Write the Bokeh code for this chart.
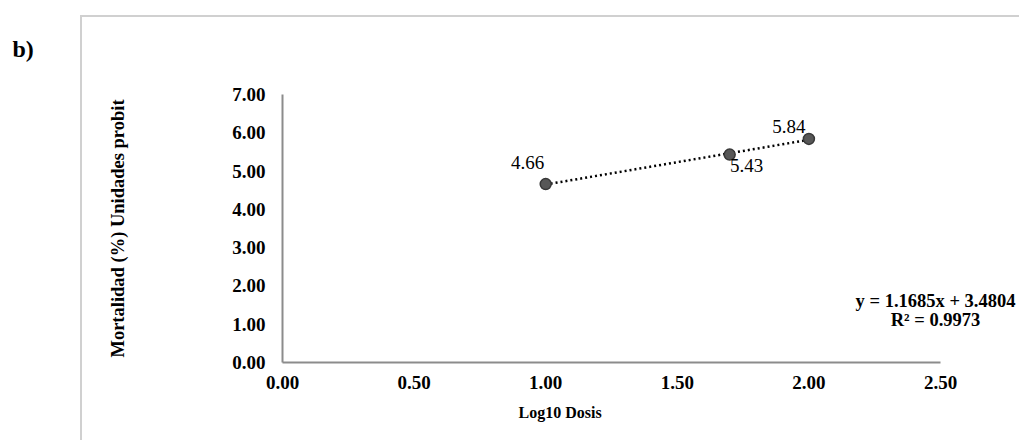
from bokeh.plotting import figure
from bokeh.models import ColumnDataSource, Range1d, FixedTicker, CustomJSTickFormatter, Label, LabelSet, Title
from bokeh.core.properties import value
from bokeh.embed import file_html
from bokeh.resources import INLINE

# ---- data ----
log_dose = [1.0, 1.699, 2.0]
probit = [4.66, 5.43, 5.84]
point_labels = ["4.66", "5.43", "5.84"]
slope = 1.1685
intercept = 3.4804
r2 = 0.9973
x_ticks = [0.0, 0.5, 1.0, 1.5, 2.0, 2.5]
y_ticks = [0, 1, 2, 3, 4, 5, 6, 7]
panel_tag = "b)"
x_title = "Log10 Dosis"
y_title = "Mortalidad (%) Unidades probit"

FONT = "Liberation Serif"

W, H = 1019, 440
FL, FR, FT, FB = 282, 940, 94, 362   # plot-area pixel box (axis extents)
XMAX, YMAX = 2.5, 7.0
ppx = (FR - FL) / XMAX
x_end = (W - FL) / ppx

p = figure(width=W, height=H, output_backend="svg", toolbar_location=None,
           x_range=Range1d(0, x_end), y_range=Range1d(0, YMAX),
           min_border_left=FL, min_border_right=0,
           min_border_top=FT, min_border_bottom=H - FB)
p.outline_line_color = None
p.grid.grid_line_color = None
p.background_fill_color = "white"
p.border_fill_alpha = 0
p.styles = {
    "background": "linear-gradient(#d0d0d0,#d0d0d0) 80px 15px / 2px 100% no-repeat, "
                  "linear-gradient(#d0d0d0,#d0d0d0) 80px 15px / 100% 2px no-repeat, white",
}

def dx(px):
    return (px - FL) / ppx

def dy(py):
    return (FB - py) / ((FB - FT) / YMAX)

for ax in (p.xaxis, p.yaxis):
    ax.axis_line_color = "#8c8c8c"
    ax.axis_line_width = 2
    ax.major_tick_line_color = None
    ax.minor_tick_line_color = None
    ax.major_tick_out = 0
    ax.major_tick_in = 0
    ax.major_label_text_font = FONT
    ax.major_label_text_font_style = "bold"
    ax.major_label_text_font_size = "19px"
    ax.major_label_text_color = "black"
    ax.formatter = CustomJSTickFormatter(code="return tick.toFixed(2);")

p.xaxis.ticker = FixedTicker(ticks=x_ticks)
p.yaxis.ticker = FixedTicker(ticks=y_ticks)
p.xaxis.bounds = (0, XMAX)
p.xaxis.major_label_standoff = 13
p.yaxis.major_label_standoff = 17

p.yaxis.axis_label = y_title
p.yaxis.axis_label_text_font = FONT
p.yaxis.axis_label_text_font_style = "bold"
p.yaxis.axis_label_text_font_size = "18.5px"
p.yaxis.axis_label_text_color = "black"
p.yaxis.axis_label_standoff = 101

# trendline from regression equation
tx = [min(log_dose), max(log_dose)]
ty = [slope * v + intercept for v in tx]
p.line(tx, ty, line_color="black", line_width=2.5, line_dash="2 3")

src = ColumnDataSource(dict(x=log_dose, y=probit, t=point_labels,
                            xo=[-18, 17, -20], yo=[22, -11, 12]))
p.scatter("x", "y", source=src, size=11, fill_color="#575757",
          line_color="#383838", line_width=1.5)

labels = LabelSet(x="x", y="y", text="t", source=src, x_offset="xo", y_offset="yo",
                  text_font=value(FONT), text_font_size="19px", text_color="black",
                  text_align="center", text_baseline="middle")
p.add_layout(labels)

eq1 = Label(x=dx(935), y=dy(300), text=f"y = {slope}x + {intercept}",
            text_font=FONT, text_font_style="bold", text_font_size="18.5px",
            text_align="center", text_baseline="middle", text_color="black")
eq2 = Label(x=dx(935), y=dy(319), text=f"R² = {r2}",
            text_font=FONT, text_font_style="bold", text_font_size="18.5px",
            text_align="center", text_baseline="middle", text_color="black")
p.add_layout(eq1)
p.add_layout(eq2)

xt = Title(text=x_title, align="left", offset=518 - FL, text_font=FONT,
           text_font_style="bold", text_font_size="16px", text_color="black",
           standoff=20)
p.add_layout(xt, "below")

tag = Title(text=panel_tag, align="left", offset=12 - FL, text_font=FONT,
            text_font_style="bold", text_font_size="24px", text_color="black",
            standoff=65)
p.add_layout(tag, "above")

open("out.html", "w").write(file_html(p, INLINE))
